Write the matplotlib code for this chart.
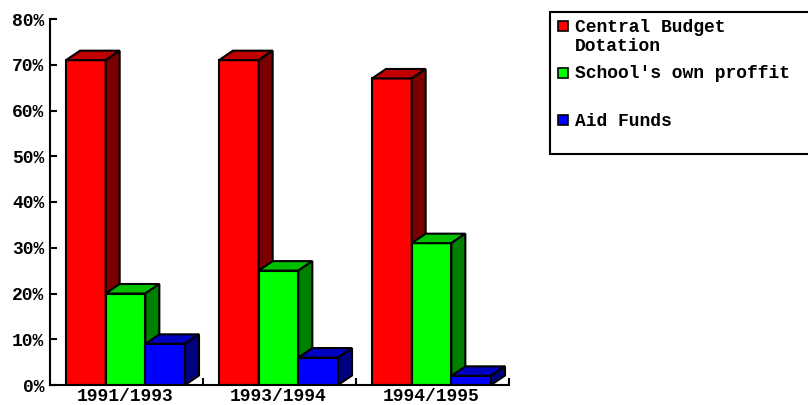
import matplotlib
matplotlib.use("Agg")
import matplotlib.pyplot as plt
from matplotlib.patches import Polygon, Rectangle

# Data
periods = ["1991/1993", "1993/1994", "1994/1995"]
series_names = ["Central Budget\nDotation", "School's own proffit", "Aid Funds"]
central_budget = [71, 71, 67]
own_profit = [20, 25, 31]
aid_funds = [9, 6, 2]
y_ticks = [0, 10, 20, 30, 40, 50, 60, 70, 80]

series_values = [central_budget, own_profit, aid_funds]
front_colors = ["#FF0000", "#00FF00", "#0000FF"]
top_colors = ["#C00000", "#00C000", "#0000C0"]
side_colors = ["#7A0000", "#008000", "#000080"]

FONT = "Liberation Mono"
FS = 13

W, H = 808, 405
fig = plt.figure(figsize=(W / 100, H / 100), dpi=100)
ax = fig.add_axes([50 / W, (H - 385) / H, 459 / W, (385 - 19) / H])
ax.set_xlim(0, 3)
ax.set_ylim(0, 80)

# bar geometry (category units / percent)
start = 16 / 153
bw = 39.67 / 153
dx = 14 / 153
dy = 9.5 / (366 / 80)

z = 2
for g in range(len(periods)):
    for s, vals in enumerate(series_values):
        v = vals[g]
        x0 = g + start + s * bw
        x1 = x0 + bw
        ax.bar(x0, v, width=bw, align="edge", color=front_colors[s],
               edgecolor="black", linewidth=1.5, zorder=z)
        top = Polygon([(x0, v), (x1, v), (x1 + dx, v + dy), (x0 + dx, v + dy)],
                      closed=True, facecolor=top_colors[s], edgecolor="black",
                      linewidth=1.5, joinstyle="miter", zorder=z, clip_on=False)
        side = Polygon([(x1, 0), (x1 + dx, dy), (x1 + dx, v + dy), (x1, v)],
                       closed=True, facecolor=side_colors[s], edgecolor="black",
                       linewidth=1.5, joinstyle="miter", zorder=z, clip_on=False)
        ax.add_patch(top)
        ax.add_patch(side)
        z += 1

for sp in ["top", "right"]:
    ax.spines[sp].set_visible(False)
for sp in ["left", "bottom"]:
    ax.spines[sp].set_linewidth(1.5)
    ax.spines[sp].set_color("black")
    ax.spines[sp].set_zorder(50)

ax.set_yticks(y_ticks)
ax.set_yticklabels([f"{t}%" for t in y_ticks], fontfamily=FONT,
                   fontweight="bold", fontsize=FS)
ax.tick_params(axis="y", direction="in", length=5, width=1.5, pad=4)

group_centers = [g + start + 1.5 * bw for g in range(len(periods))]
ax.set_xticks([1, 2, 3])
ax.set_xticklabels([])
ax.tick_params(axis="x", which="major", direction="in", length=5, width=1.5)
ax.set_xticks(group_centers, minor=True)
ax.set_xticklabels(periods, minor=True, fontfamily=FONT,
                   fontweight="bold", fontsize=FS)
ax.tick_params(axis="x", which="minor", length=0, pad=2.5)


# legend box drawn in figure pixel coordinates
def fx(px):
    return px / W


def fy(py):
    return (H - py) / H


fig.patches.append(Rectangle((fx(550), fy(154)), fx(W + 10) - fx(550),
                             fy(12) - fy(154), transform=fig.transFigure,
                             facecolor="white", edgecolor="black",
                             linewidth=1.5, zorder=1))
entry_y = [26, 72.5, 120]
for s, name in enumerate(series_names):
    yc = entry_y[s]
    fig.patches.append(Rectangle((fx(558), fy(yc + 5)), fx(10), 10 / H,
                                 transform=fig.transFigure,
                                 facecolor=front_colors[s], edgecolor="black",
                                 linewidth=1.2, zorder=3))
    fig.text(fx(575), fy(yc - 7.5), name, fontfamily=FONT, fontweight="bold",
             fontsize=FS, va="top", ha="left", linespacing=1.2,
             transform=fig.transFigure)

fig.savefig("out.png", dpi=100)
